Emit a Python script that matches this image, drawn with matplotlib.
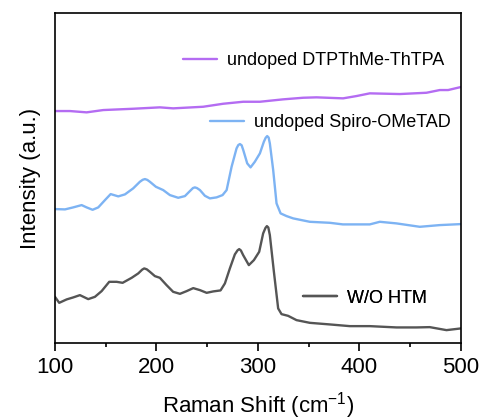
import matplotlib
matplotlib.use("Agg")
from matplotlib import pyplot as plt
from matplotlib.ticker import MultipleLocator

plt.rcParams['font.family'] = ['Liberation Sans', 'DejaVu Sans']

# W/O HTM
bare_x = [100, 104.2, 111.5, 118.0, 124.6, 132.8, 139.4, 146.0, 153.5, 160.8,
          166.7, 175.6, 182.1, 186.0, 188.0, 190.5, 193.6, 198.5, 203.4, 210.0,
          216.5, 223.2, 229.8, 236.3, 242.9, 249.5, 256.0, 263.2, 267.5, 272.4,
          277.3, 280.0, 281.6, 283.3, 285.5, 291.1, 296.1, 301.3, 305.2, 307.5,
          308.9, 310.3, 311.8, 315.8, 320.0, 323.3, 329.8, 338.1, 351.2, 370.9,
          390.6, 410.3, 436.6, 456.3, 469.4, 485.9, 500]
bare_y = [46.3, 40.3, 43.7, 45.7, 48, 44, 46.3, 52, 61.3, 61.3,
          60.3, 65.3, 69.7, 73.5, 74.7, 73.8, 71.3, 67, 65.3, 58,
          51.3, 49.3, 52, 55, 53, 50.3, 51.7, 52.7, 59.7, 74.7,
          88.7, 92.8, 94, 92.6, 88, 78, 83, 91.3, 109.7, 115.2,
          117, 115.6, 108, 71.3, 34.7, 29, 27.3, 23, 20.3, 18.7,
          17, 17, 15.7, 15.7, 16, 13, 14.7]

# undoped Spiro-OMeTAD
spiro_x = [100, 109.9, 118.0, 126.3, 131.2, 137.1, 142.7, 149.3, 154.9, 162.4,
           169.0, 177.1, 183.7, 186.5, 188.7, 191.0, 193.6, 199.5, 206.7, 213.3,
           221.5, 228.1, 233.0, 236.0, 237.9, 240.0, 242.9, 247.8, 252.7, 259.3,
           265.2, 269.2, 274.1, 279.0, 280.7, 282.3, 284.0, 285.6, 289.5, 292.8,
           297.0, 302.0, 305.9, 307.7, 309.2, 310.6, 311.8, 315.1, 318.4, 322.4,
           328.3, 334.8, 351.2, 370.9, 383.7, 410.3, 420.2, 436.6, 459.6, 479.3,
           500.0]
spiro_y = [134.0, 133.7, 135.7, 138, 135.7, 133.3, 135.7, 143, 149, 146.7,
           148.7, 154.7, 161.3, 163.3, 164, 163.2, 161.3, 156.3, 153, 148,
           145.3, 147, 152, 155, 155.7, 155, 153, 147.3, 144.7, 145.7,
           148, 153, 176.3, 194.7, 198, 199, 197.8, 193, 179.7, 175.7,
           181.3, 189.7, 201.3, 205.3, 207, 205.5, 199.7, 173, 139.7, 129.7,
           127, 124.7, 121.3, 120.3, 118.7, 118.7, 121.3, 119.7, 116.3, 118,
           119]

# undoped DTPThMe-ThTPA
dtp_x = [100, 114.8, 131.2, 147.6, 177.1, 203.4, 216.5, 246.1, 265.8, 285.5,
         302.0, 324.9, 344.6, 357.8, 384.0, 397.2, 410.3, 439.9, 466.2, 479.3,
         487.5, 500]
dtp_y = [232, 232, 230.7, 233, 234.3, 235.7, 234.7, 236.3, 239.3, 241.3,
         241.3, 243.7, 245.3, 245.7, 244.7, 247, 249.7, 249, 250.3, 253,
         253, 256]

series = [
    (dtp_x, dtp_y, '#b46cf2', 'undoped DTPThMe-ThTPA', (0.315, 0.855)),
    (spiro_x, spiro_y, '#7db3f3', 'undoped Spiro-OMeTAD', (0.382, 0.667)),
    (bare_x, bare_y, '#555555', 'W/O HTM', (0.611, 0.136)),
]

fig = plt.figure(figsize=(4.82, 4.2), dpi=100)
ax = fig.add_axes([0.114, 0.183, 0.842, 0.786])

for x, y, color, label, pos in series:
    line, = ax.plot(x, y, color=color, lw=1.7, solid_joinstyle='round',
                    solid_capstyle='round')
    leg = ax.legend([line], [label], loc='center left', bbox_to_anchor=pos,
                    frameon=False, fontsize=13, handlelength=1.9,
                    handletextpad=0.55, borderpad=0, borderaxespad=0)
    ax.add_artist(leg)

ax.set_xlim(100, 500)
ax.set_ylim(0, 330)
ax.xaxis.set_major_locator(MultipleLocator(100))
ax.xaxis.set_minor_locator(MultipleLocator(50))
ax.tick_params(axis='x', which='major', direction='out', length=6, width=1.2,
               labelsize=16, pad=4)
ax.tick_params(axis='x', which='minor', direction='out', length=3, width=1.2)
ax.set_yticks([])
for sp in ax.spines.values():
    sp.set_linewidth(1.2)

ax.set_xlabel('Raman Shift (cm$^{\\mathregular{-1}}$)', fontsize=16, labelpad=9)
ax.set_ylabel('Intensity (a.u.)', fontsize=16, labelpad=10)

fig.savefig('out.png', dpi=100)
